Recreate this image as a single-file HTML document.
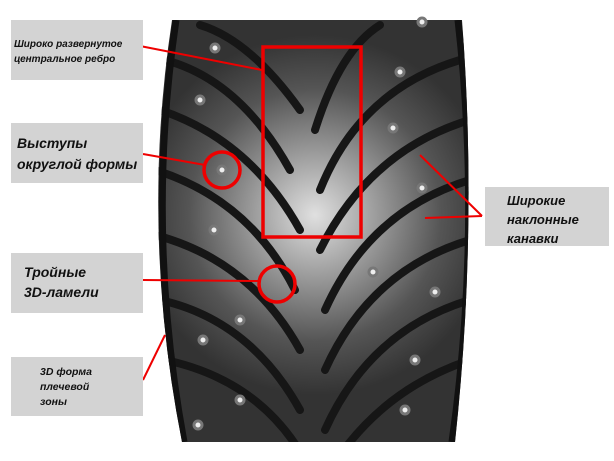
<!DOCTYPE html>
<html><head><meta charset="utf-8"><style>
html,body{margin:0;padding:0;background:#fff;width:614px;height:461px;overflow:hidden;position:relative;font-family:"Liberation Sans",sans-serif}
.b{position:absolute;background:#d3d3d3;font-weight:bold;font-style:italic;color:#111}
</style></head><body>
<svg width="614" height="461" style="position:absolute;left:0;top:0">
<defs>
<radialGradient id="g" cx="315" cy="215" r="180" gradientUnits="userSpaceOnUse">
<stop offset="0" stop-color="#e0e0e0"/><stop offset="0.35" stop-color="#9a9a9a"/><stop offset="0.7" stop-color="#555"/><stop offset="1" stop-color="#333"/></radialGradient>
<clipPath id="c"><path d="M172 20 L462 20 Q478 230 455 442 L182 442 Q140 230 172 20Z"/></clipPath>
</defs>
<path d="M172 20 L462 20 Q478 230 455 442 L182 442 Q140 230 172 20Z" fill="url(#g)"/>
<g clip-path="url(#c)" fill="none" stroke="#161616" stroke-width="8" stroke-linecap="round">
<path d="M300 110 Q250 40 200 25"/>
<path d="M290 170 Q240 80 165 60"/>
<path d="M300 230 Q250 140 160 110"/>
<path d="M295 290 Q250 200 155 170"/>
<path d="M300 350 Q250 260 155 235"/>
<path d="M300 410 Q250 320 160 300"/>
<path d="M305 460 Q260 380 165 360"/>
<path d="M315 130 Q340 50 380 25"/>
<path d="M320 190 Q360 90 460 60"/>
<path d="M320 250 Q370 150 470 120"/>
<path d="M325 310 Q370 210 470 180"/>
<path d="M325 370 Q370 270 470 240"/>
<path d="M325 430 Q370 330 470 300"/>
<path d="M330 470 Q380 390 470 360"/>
</g>
<g clip-path="url(#c)" fill="none" stroke="#111" stroke-width="7">
<path d="M176 20 Q145 230 184 442"/><path d="M458 20 Q482 230 452 442"/>
</g>
<g fill="#eee" stroke="#777" stroke-width="3">
<circle cx="215" cy="48" r="4"/><circle cx="200" cy="100" r="4"/><circle cx="222" cy="170" r="4"/><circle cx="214" cy="230" r="4"/><circle cx="240" cy="320" r="4"/><circle cx="203" cy="340" r="4"/><circle cx="240" cy="400" r="4"/><circle cx="198" cy="425" r="4"/><circle cx="400" cy="72" r="4"/><circle cx="393" cy="128" r="4"/><circle cx="422" cy="188" r="4"/><circle cx="373" cy="272" r="4"/><circle cx="435" cy="292" r="4"/><circle cx="415" cy="360" r="4"/><circle cx="405" cy="410" r="4"/><circle cx="422" cy="22" r="4"/>
</g>
<g fill="none" stroke="#e00" stroke-width="2">
<line x1="140" y1="46" x2="262" y2="70"/><line x1="143" y1="154" x2="205" y2="165"/>
<line x1="482" y1="216" x2="420" y2="155"/><line x1="482" y1="216" x2="425" y2="218"/>
<line x1="143" y1="280" x2="260" y2="281"/><line x1="143" y1="380" x2="165" y2="335"/>
</g>
<g fill="none" stroke="#e00" stroke-width="3.5">
<rect x="263" y="47" width="98" height="190"/>
<circle cx="222" cy="170" r="18"/><circle cx="277" cy="284" r="18"/>
</g>
</svg>
<div class="b" style="left:11px;top:20px;width:132px;height:60px;font-size:10px;line-height:15px"><div style="padding:17px 0 0 3px">Широко развернутое<br>центральное ребро</div></div>
<div class="b" style="left:11px;top:123px;width:132px;height:60px;font-size:14px;line-height:21px"><div style="padding:10px 0 0 6px">Выступы<br>округлой формы</div></div>
<div class="b" style="left:485px;top:187px;width:124px;height:59px;font-size:13px;line-height:19px"><div style="padding:4px 0 0 22px">Широкие<br>наклонные<br>канавки</div></div>
<div class="b" style="left:11px;top:253px;width:132px;height:60px;font-size:14px;line-height:20px"><div style="padding:9px 0 0 13px">Тройные<br>3D-ламели</div></div>
<div class="b" style="left:11px;top:357px;width:132px;height:59px;font-size:10.5px;line-height:15px"><div style="padding:8px 0 0 29px">3D форма<br>плечевой<br>зоны</div></div>
</body></html>
